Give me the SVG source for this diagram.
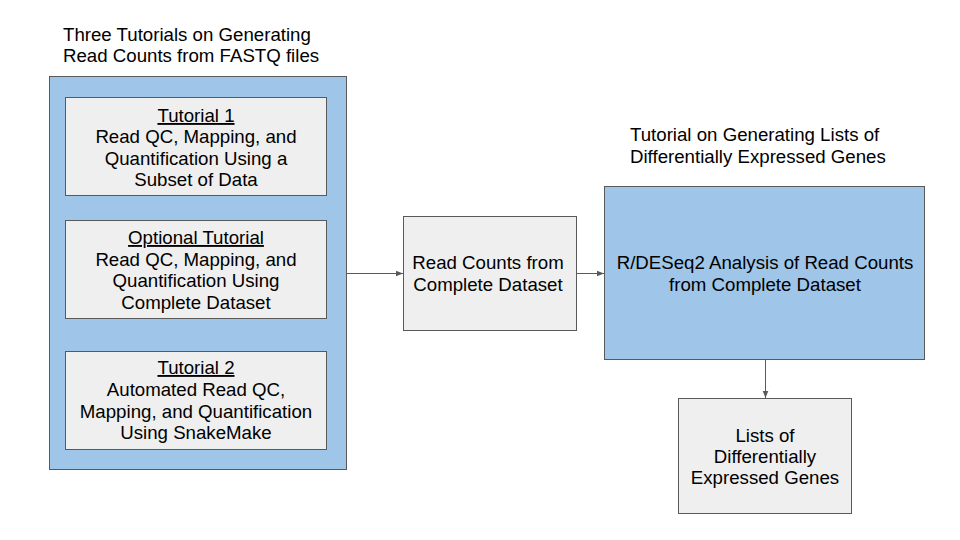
<svg xmlns="http://www.w3.org/2000/svg" width="960" height="540" viewBox="0 0 960 540">
<defs>
<style>
text{font-family:"Liberation Sans",Arial,sans-serif;font-size:18.67px;fill:#000}
.c{text-anchor:middle}
.blue{fill:#9fc5e8;stroke:#595959;stroke-width:1}
.gray{fill:#efefef;stroke:#595959;stroke-width:1}
.conn{stroke:#595959;stroke-width:1;fill:none}
</style>
<marker id="ah" viewBox="0 0 10 10" refX="10" refY="5" markerWidth="7" markerHeight="7" markerUnits="userSpaceOnUse" orient="auto">
<path d="M0,1 L10,5 L0,9 Z" fill="#595959"/>
</marker>
</defs>
<rect width="960" height="540" fill="#fff"/>
<g id="title-left">
<text x="63" y="41">Three Tutorials on Generating</text>
<text x="63" y="62">Read Counts from FASTQ files</text>
</g>
<g id="title-right">
<text x="630" y="141">Tutorial on Generating Lists of</text>
<text x="630" y="163">Differentially Expressed Genes</text>
</g>
<g id="group-tutorials">
<rect class="blue" x="49.5" y="76.5" width="297" height="393"/>
</g>
<g id="tutorial1">
<rect class="gray" x="65.5" y="97.5" width="261" height="98"/>
<text class="c" x="196" y="122" text-decoration="underline">Tutorial 1</text>
<text class="c" x="196" y="143">Read QC, Mapping, and</text>
<text class="c" x="196" y="164.5">Quantification Using a</text>
<text class="c" x="196" y="186">Subset of Data</text>
</g>
<g id="optional">
<rect class="gray" x="65.5" y="220.5" width="261" height="98"/>
<text class="c" x="196" y="244" text-decoration="underline">Optional Tutorial</text>
<text class="c" x="196" y="265.5">Read QC, Mapping, and</text>
<text class="c" x="196" y="287">Quantification Using</text>
<text class="c" x="196" y="308.5">Complete Dataset</text>
</g>
<g id="tutorial2">
<rect class="gray" x="65.5" y="351.5" width="261" height="98"/>
<text class="c" x="196" y="374" text-decoration="underline">Tutorial 2</text>
<text class="c" x="196" y="396">Automated Read QC,</text>
<text class="c" x="196" y="417.5">Mapping, and Quantification</text>
<text class="c" x="196" y="439">Using SnakeMake</text>
</g>
<g id="readcounts">
<rect class="gray" x="403.5" y="216.5" width="173" height="114"/>
<text class="c" x="488" y="269">Read Counts from</text>
<text class="c" x="488" y="291">Complete Dataset</text>
</g>
<g id="deseq">
<rect class="blue" x="604.5" y="186.5" width="320" height="173"/>
<text class="c" x="765" y="269">R/DESeq2 Analysis of Read Counts</text>
<text class="c" x="765" y="291">from Complete Dataset</text>
</g>
<g id="lists">
<rect class="gray" x="678.5" y="398.5" width="173" height="115"/>
<text class="c" x="765" y="441.5">Lists of</text>
<text class="c" x="765" y="462.5">Differentially</text>
<text class="c" x="765" y="483.5">Expressed Genes</text>
</g>
<g id="connectors">
<line class="conn" x1="347" y1="273.5" x2="403" y2="273.5" marker-end="url(#ah)"/>
<line class="conn" x1="577" y1="273.5" x2="604" y2="273.5" marker-end="url(#ah)"/>
<line class="conn" x1="765.5" y1="360" x2="765.5" y2="398" marker-end="url(#ah)"/>
</g>
</svg>
